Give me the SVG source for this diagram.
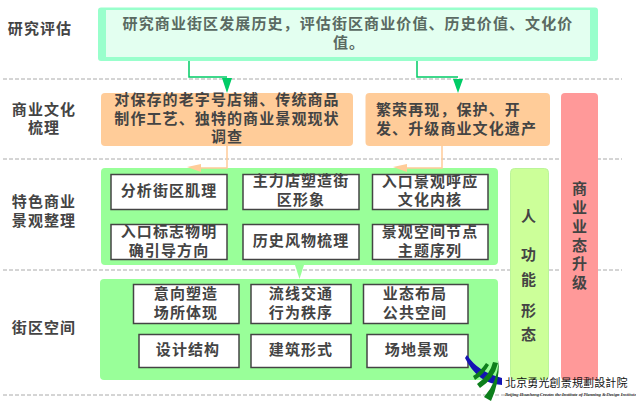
<svg xmlns="http://www.w3.org/2000/svg" width="636" height="406" viewBox="0 0 636 406">
<style>
text{font-family:"Noto Sans CJK SC","Liberation Sans",sans-serif;font-size:15px;font-weight:700;letter-spacing:1.100px;fill:#444;text-anchor:middle}
.s{text-anchor:start}
.dash{stroke:#aaa;stroke-width:1;stroke-dasharray:4 2;fill:none}
.or{fill:#ffcc99}
.gr{fill:#99ff99}
.wb{fill:#fff;stroke:#444;stroke-width:1.5}
.cg{stroke:#00cc66;stroke-width:1.5;fill:none}
.co{stroke:#ffcc99;stroke-width:1.5;fill:none}
</style>
<rect width="636" height="406" fill="#fff"/>
<g id="swimlanes">
<path class="dash" d="M3 79H622M3 159H622M3 270H622M3 395H622"/>
</g>
<g id="label-1"><text x="40" y="34">研究评估</text></g>
<g id="label-2"><text x="44" y="115">商业文化</text><text x="44" y="133">梳理</text></g>
<g id="label-3"><text x="44" y="207">特色商业</text><text x="44" y="226">景观整理</text></g>
<g id="label-4"><text x="44" y="333">街区空间</text></g>
<g id="node-research">
<rect x="98" y="7.500" width="500" height="53.500" rx="3" fill="#99ffcc"/>
<rect x="106" y="10" width="484" height="47" fill="#e3fff0"/>
<text x="348" y="29" style="fill:#5a6a62">研究商业街区发展历史，评估街区商业价值、历史价值、文化价</text>
<text x="349" y="48" style="fill:#5a6a62">值。</text>
</g>
<g id="node-orange-1">
<rect class="or" x="101" y="93" width="252" height="53" rx="4"/>
<text x="227" y="105">对保存的老字号店铺、传统商品</text>
<text x="227" y="124">制作工艺、独特的商业景观现状</text>
<text x="227" y="142">调查</text>
</g>
<g id="node-orange-2">
<rect class="or" x="365.500" y="93" width="184.500" height="53" rx="4"/>
<text class="s" x="376" y="115">繁荣再现，保护、开</text>
<text class="s" x="376" y="134">发、升级商业文化遗产</text>
</g>
<g id="node-commerce">
<rect x="561" y="93" width="37" height="287" rx="4" fill="#ff9999"/>
<text x="580" y="194">商</text><text x="580" y="213">业</text><text x="580" y="232">业</text><text x="580" y="251">态</text><text x="580" y="269">升</text><text x="580" y="288">级</text>
</g>
<g id="node-function">
<rect x="510.500" y="168.500" width="38" height="211" rx="4" fill="#ccff99" stroke="#bbf59a"/>
<text x="529" y="222">人</text><text x="529" y="260">功</text><text x="529" y="285">能</text><text x="529" y="316">形</text><text x="529" y="340">态</text>
</g>
<g id="node-landscape">
<rect class="gr" x="101" y="168" width="397" height="97" rx="4"/>
<g id="b1"><rect class="wb" x="111" y="174.500" width="116" height="35"/><text x="169" y="196">分析街区肌理</text></g>
<g id="b2"><rect class="wb" x="243" y="174.500" width="116" height="35"/><text x="301" y="186">主力店塑造街</text><text x="301" y="205">区形象</text></g>
<g id="b3"><rect class="wb" x="372.500" y="174.500" width="115.500" height="35"/><text x="430" y="187">入口景观呼应</text><text x="430" y="205">文化内核</text></g>
<g id="b4"><rect class="wb" x="111" y="224.500" width="116" height="35"/><text x="169" y="237">入口标志物明</text><text x="169" y="256">确引导方向</text></g>
<g id="b5"><rect class="wb" x="243" y="224.500" width="116" height="35"/><text x="301" y="246">历史风物梳理</text></g>
<g id="b6"><rect class="wb" x="372.500" y="224.500" width="115.500" height="35"/><text x="430" y="237">景观空间节点</text><text x="430" y="256">主题序列</text></g>
</g>
<g id="node-space">
<rect class="gr" x="100" y="279" width="398" height="101" rx="4"/>
<g id="b7"><rect class="wb" x="133.500" y="284.500" width="105.500" height="39"/><text x="186" y="299">意向塑造</text><text x="186" y="318">场所体现</text></g>
<g id="b8"><rect class="wb" x="251" y="284.500" width="100" height="39"/><text x="301" y="299">流线交通</text><text x="301" y="318">行为秩序</text></g>
<g id="b9"><rect class="wb" x="363.500" y="284.500" width="104.500" height="39"/><text x="415" y="299">业态布局</text><text x="415" y="318">公共空间</text></g>
<g id="b10"><rect class="wb" x="139" y="334.500" width="100" height="33"/><text x="188" y="355">设计结构</text></g>
<g id="b11"><rect class="wb" x="251" y="334.500" width="100" height="33"/><text x="301" y="355">建筑形式</text></g>
<g id="b12"><rect class="wb" x="367" y="334.500" width="101" height="33"/><text x="417" y="355">场地景观</text></g>
</g>
<g id="connectors">
<path class="cg" d="M189 61V77H227"/>
<path d="M222 78H232L227 93Z" fill="#00cc66"/>
<path class="cg" d="M417 61V77H458"/>
<path d="M453 79H463L458 93Z" fill="#00cc66"/>
<path class="co" d="M227 146V168H195"/>
<path d="M187 167L201 164V172Z" fill="#ffcc99"/>
<path class="co" d="M442 146V168H402"/>
<path d="M393 167L407 164V172Z" fill="#ffcc99"/>
<path d="M295 265H304L299.500 279Z" fill="#99ff99"/>
</g>
<g id="logo">
<path d="M467 355Q478 372 502 378V385Q478 384 465 358Z" fill="#1414b4"/>
<path d="M486 363Q480 372 473 376L475 380Q484 374 489 365Z" fill="#0d7f1c"/>
<path d="M493 362Q490 375 477 384L480 388Q494 379 498 363Z" fill="#0d7f1c"/>
<path d="M499 360Q497 383 484 397L491 401Q499 385 499 360Z" fill="#0d7f1c"/>
<text class="s" x="505" y="387" style="font-family:'Noto Sans CJK TC',sans-serif;font-size:11px;letter-spacing:0.150px;font-weight:400;fill:#111">北京勇光創景規劃設計院</text>
<text class="s" x="505" y="396" style="font-family:'Liberation Serif',serif;font-size:4.500px;letter-spacing:0;font-style:italic;fill:#333">Beijing Huasheng Creates the Institute of Planning &amp; Design Institute</text>
</g>
</svg>
